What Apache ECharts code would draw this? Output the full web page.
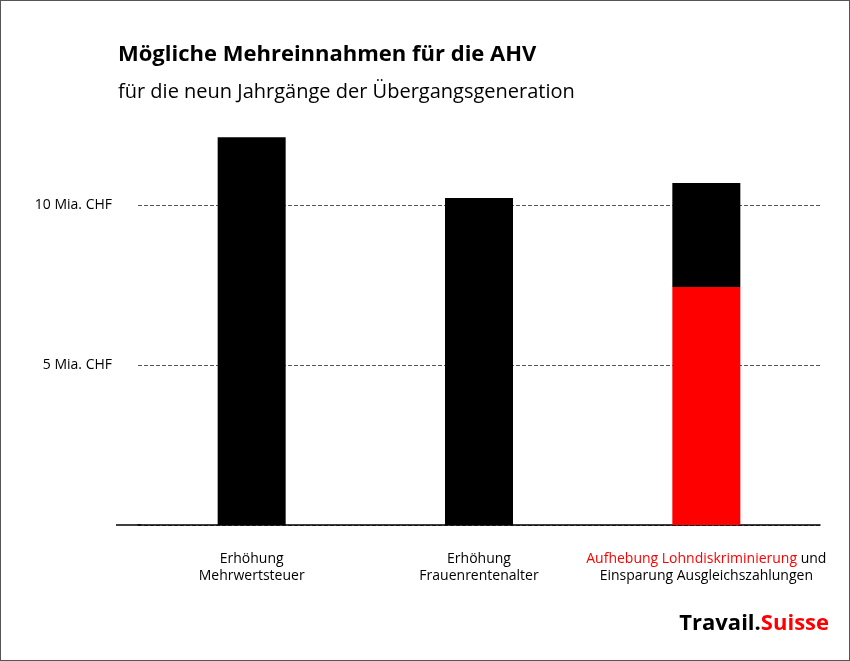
<!DOCTYPE html>
<html>
<head>
<meta charset="utf-8">
<script src="https://cdn.jsdelivr.net/npm/echarts@6/dist/echarts.min.js"></script>
<style>
html,body{margin:0;padding:0;background:#fff;}
#chart{width:848px;height:659px;border:1px solid #555;}
</style>
</head>
<body>
<div id="chart"></div>
<script>
var categories = ['Erhöhung\nMehrwertsteuer', 'Erhöhung\nFrauenrentenalter', '{r|Aufhebung Lohndiskriminierung} und\nEinsparung Ausgleichszahlungen'];
var redValues = [0, 0, 7.44];
var blackValues = [12.12, 10.22, 3.25];
var yTicks = {5: '5 Mia. CHF', 10: '10 Mia. CHF'};

var chart = echarts.init(document.getElementById('chart'));
chart.setOption({
	animation: false,
	textStyle: {fontFamily: 'Open Sans'},
	title: [
		{text: 'Mögliche Mehreinnahmen für die AHV', left: 112, top: 38,
			textStyle: {fontSize: 22, fontWeight: 'bold', color: '#000', fontFamily: 'Open Sans'}},
		{text: 'für die neun Jahrgänge der Übergangsgeneration', left: 112, top: 76,
			textStyle: {fontSize: 20, fontWeight: 'normal', color: '#000', fontFamily: 'Open Sans'}}
	],
	graphic: [{
		type: 'text', right: 20, top: 612,
		style: {text: '{b|Travail.}{r|Suisse}', rich: {
			b: {fontSize: 22, fontWeight: 'bold', fill: '#000', fontFamily: 'Open Sans'},
			r: {fontSize: 22, fontWeight: 'bold', fill: '#ff0000', fontFamily: 'Open Sans'}
		}}
	}, {
		type: 'line', shape: {x1: 115, y1: 524, x2: 140, y2: 524},
		style: {stroke: '#000', lineWidth: 1.5}
	}],
	grid: {left: 137, right: 29, top: 44, bottom: 135},
	xAxis: {
		type: 'category', data: categories,
		axisLine: {lineStyle: {color: '#000', width: 1.5}},
		axisTick: {show: false},
		axisLabel: {margin: 26, fontSize: 14, color: '#000', lineHeight: 17, interval: 0,
			rich: {r: {color: '#ff0000', fontSize: 14, lineHeight: 17}}}
	},
	yAxis: {
		type: 'value', min: 0, max: 15, interval: 5,
		axisLine: {show: false}, axisTick: {show: false},
		axisLabel: {fontSize: 14, color: '#000', margin: 26,
			formatter: function(v){ return yTicks[v] || ''; }},
		splitLine: {lineStyle: {type: 'dashed', color: '#555'}, showMaxLine: false}
	},
	series: [
		{type: 'bar', stack: 'a', data: redValues, barWidth: 68, itemStyle: {color: '#ff0000'}},
		{type: 'bar', stack: 'a', data: blackValues, barWidth: 68, itemStyle: {color: '#000'}}
	]
});
</script>
</body>
</html>
